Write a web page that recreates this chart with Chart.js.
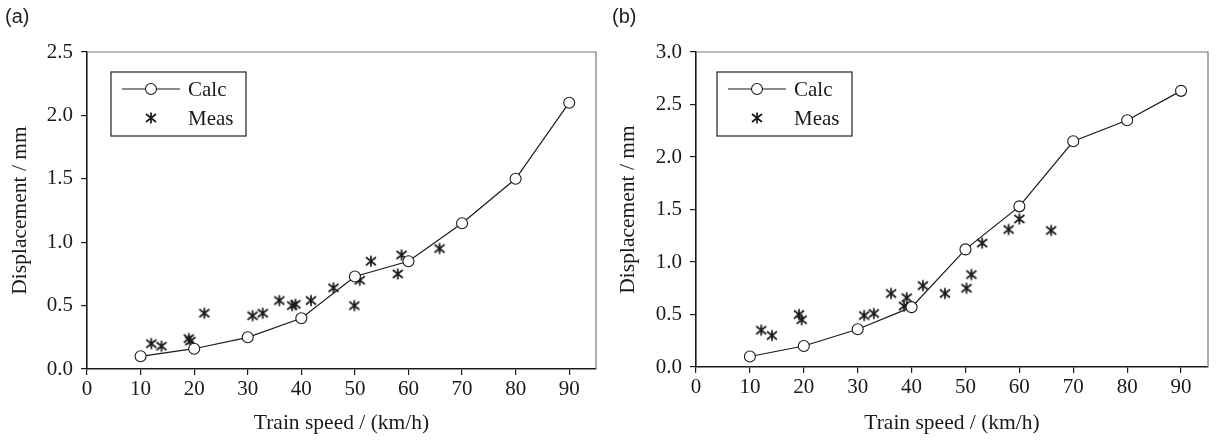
<!DOCTYPE html>
<html>
<head>
<meta charset="utf-8">
<script src="https://cdn.jsdelivr.net/npm/chart.js@4/dist/chart.umd.min.js"></script>
<style>
  html, body { margin: 0; padding: 0; background: #fff; }
  #wrap { position: relative; width: 1216px; height: 440px; overflow: hidden; }
  .pane { position: absolute; top: 0; width: 608px; height: 440px; }
  .tag { position: absolute; top: 5px; font-family: "Liberation Sans", Arial, sans-serif; font-size: 20px; color: #222; }
</style>
</head>
<body>
<div id="wrap">
  <div class="pane" style="left:0"><canvas id="ca" width="608" height="440"></canvas></div>
  <div class="pane" style="left:608px"><canvas id="cb" width="608" height="440"></canvas></div>
  <div class="tag" style="left:5px">(a)</div>
  <div class="tag" style="left:612px">(b)</div>
</div>
<script>
// ---- data ----
const calcSpeed = [10, 20, 30, 40, 50, 60, 70, 80, 90];
const calcA = [0.10, 0.16, 0.25, 0.40, 0.73, 0.85, 1.15, 1.50, 2.10];
const calcB = [0.10, 0.20, 0.36, 0.57, 1.12, 1.53, 2.15, 2.35, 2.63];

const measSpeedA = [12.0, 13.9, 19.0, 19.3, 21.9, 30.9, 32.8, 35.9, 38.3, 38.9, 41.8, 46.0, 49.9, 50.9, 53.0, 58.0, 58.7, 65.8];
const measA      = [0.20, 0.18, 0.24, 0.22, 0.44, 0.42, 0.44, 0.54, 0.50, 0.51, 0.54, 0.64, 0.50, 0.70, 0.85, 0.75, 0.90, 0.95];

const measSpeedB = [12.1, 14.1, 19.1, 19.6, 31.2, 33.0, 36.2, 38.6, 39.1, 42.1, 46.2, 50.2, 51.1, 53.1, 58.0, 60.0, 65.9];
const measB      = [0.35, 0.30, 0.50, 0.45, 0.49, 0.51, 0.70, 0.58, 0.66, 0.775, 0.70, 0.75, 0.88, 1.18, 1.31, 1.41, 1.30];

const xTicks = [0, 10, 20, 30, 40, 50, 60, 70, 80, 90];
const yTicksA = [0, 0.5, 1.0, 1.5, 2.0, 2.5];
const yTicksB = [0, 0.5, 1.0, 1.5, 2.0, 2.5, 3.0];

const seriesNames = ['Calc', 'Meas'];
const xTitle = 'Train speed / (km/h)';
const yTitle = 'Displacement / mm';

// ---- styling ----
const SERIF = '"Liberation Serif", "Times New Roman", serif';
const INK = '#1a1a1a';

function makeAsterisk() {
  const c = document.createElement('canvas');
  c.width = 14; c.height = 14;
  const g = c.getContext('2d');
  g.strokeStyle = INK; g.lineWidth = 1.7; g.lineCap = 'butt';
  g.beginPath();
  g.moveTo(7, 1.5); g.lineTo(7, 12.5);
  g.moveTo(2, 3); g.lineTo(12, 11);
  g.moveTo(2, 11); g.lineTo(12, 3);
  g.stroke();
  return c;
}
const asterisk = makeAsterisk();

const framePlugin = {
  id: 'frame',
  afterDraw(chart) {
    const {ctx, chartArea: a} = chart;
    ctx.save();
    ctx.strokeStyle = '#777';
    ctx.lineWidth = 1.2;
    ctx.beginPath();
    ctx.moveTo(a.left, a.top); ctx.lineTo(a.right, a.top); ctx.lineTo(a.right, a.bottom);
    ctx.stroke();
    ctx.restore();
  }
};

const boxLegend = {
  id: 'boxLegend',
  afterDatasetsDraw(chart, args, opts) {
    const {ctx, chartArea: a} = chart;
    const x = a.left + opts.dx, y = a.top + opts.dy, w = 135, h = 64;
    ctx.save();
    ctx.fillStyle = '#fff';
    ctx.fillRect(x, y, w, h);
    ctx.strokeStyle = '#333'; ctx.lineWidth = 1.3;
    ctx.strokeRect(x, y, w, h);
    const ds = chart.data.datasets;
    const r1 = y + 17, r2 = y + 46;
    ctx.strokeStyle = INK; ctx.lineWidth = 1.2;
    ctx.beginPath(); ctx.moveTo(x + 11, r1); ctx.lineTo(x + 69, r1); ctx.stroke();
    ctx.beginPath(); ctx.arc(x + 40, r1, 5.5, 0, Math.PI * 2);
    ctx.fillStyle = '#fff'; ctx.fill(); ctx.lineWidth = 1.1; ctx.stroke();
    ctx.drawImage(asterisk, x + 40 - 7, r2 - 7);
    ctx.fillStyle = INK;
    ctx.font = '21px ' + SERIF;
    ctx.textBaseline = 'middle';
    ctx.fillText(ds[0].label, x + 77, r1 + 1);
    ctx.fillText(ds[1].label, x + 77, r2 + 1);
    ctx.restore();
  }
};

function build(id, calc, mSpeed, mVal, yTicks, yMax, yW, xH, padRight, legendDx) {
  const calcPts = calcSpeed.map((s, i) => ({x: s, y: calc[i]}));
  const measPts = mSpeed.map((s, i) => ({x: s, y: mVal[i]}));
  return new Chart(document.getElementById(id), {
    type: 'scatter',
    data: {
      datasets: [
        {
          label: seriesNames[0], data: calcPts, showLine: true,
          borderColor: INK, borderWidth: 1.2,
          pointStyle: 'circle', pointRadius: 5.5, pointHoverRadius: 5.5,
          pointBackgroundColor: '#fff', pointBorderColor: INK, pointBorderWidth: 1.1
        },
        {
          label: seriesNames[1], data: measPts, showLine: false,
          pointStyle: asterisk, pointRadius: 6, pointHoverRadius: 6
        }
      ]
    },
    options: {
      responsive: false, animation: false,
      layout: { padding: { left: 0, top: 52, right: padRight, bottom: 0 } },
      plugins: { legend: { display: false }, tooltip: { enabled: false }, boxLegend: { dx: legendDx, dy: 20 } },
      scales: {
        x: {
          type: 'linear', min: 0, max: 95,
          afterBuildTicks: s => { s.ticks = xTicks.map(v => ({value: v})); },
          afterFit: s => { s.height = xH; },
          grid: { display: true, drawOnChartArea: false, drawTicks: true, tickLength: 6, color: INK, lineWidth: 1.2 },
          border: { display: true, color: INK, width: 1.6 },
          ticks: { color: INK, font: { family: SERIF, size: 21 }, padding: 2, maxRotation: 0, callback: v => String(v) },
          title: { display: true, text: xTitle, color: INK, font: { family: SERIF, size: 21.5 }, padding: { top: 0, bottom: 4 } }
        },
        y: {
          type: 'linear', min: 0, max: yMax,
          afterBuildTicks: s => { s.ticks = yTicks.map(v => ({value: v})); },
          afterFit: s => { s.width = yW; },
          grid: { display: true, drawOnChartArea: false, drawTicks: true, tickLength: 6, color: INK, lineWidth: 1.2 },
          border: { display: true, color: INK, width: 1.6 },
          ticks: { color: INK, font: { family: SERIF, size: 21 }, padding: 8, callback: v => Number(v).toFixed(1) },
          title: { display: true, text: yTitle, color: INK, font: { family: SERIF, size: 21.5 }, padding: { top: 7, bottom: 0 } }
        }
      }
    },
    plugins: [framePlugin, boxLegend]
  });
}

build('ca', calcA, measSpeedA, measA, yTicksA, 2.5, 87, 71, 12, 24);
build('cb', calcB, measSpeedB, measB, yTicksB, 3.0, 88, 73, 8, 21);
</script>
</body>
</html>
